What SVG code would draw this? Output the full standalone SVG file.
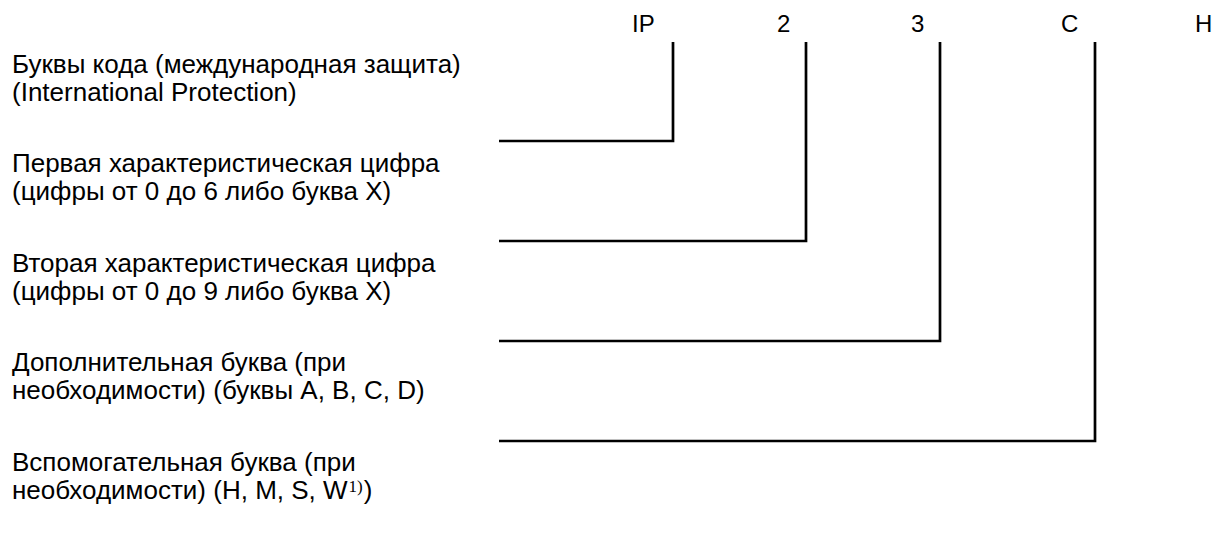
<svg xmlns="http://www.w3.org/2000/svg" width="1218" height="544" viewBox="0 0 1218 544">
<style>
.t{font-family:"Liberation Sans",Arial,sans-serif;font-size:26px;fill:#000}
.h{font-family:"Liberation Sans",Arial,sans-serif;font-size:24px;fill:#000}
.sup{font-family:"Liberation Serif","Times New Roman",serif;font-size:17px}
.c{fill:none;stroke:#000;stroke-width:2.7}
</style>
<rect width="1218" height="544" fill="#fff"/>
<g id="code">
<text class="h" x="632" y="32">IP</text>
<text class="h" x="777" y="32">2</text>
<text class="h" x="911" y="32">3</text>
<text class="h" x="1061" y="32">C</text>
<text class="h" x="1195" y="32">H</text>
</g>
<g id="n1"><text class="t" x="12" y="73">Буквы кода (международная защита)</text><text class="t" x="12" y="101">(International Protection)</text></g>
<g id="n2"><text class="t" x="12" y="172">Первая характеристическая цифра</text><text class="t" x="12" y="200">(цифры от 0 до 6 либо буква X)</text></g>
<g id="n3"><text class="t" x="12" y="272">Вторая характеристическая цифра</text><text class="t" x="12" y="300">(цифры от 0 до 9 либо буква X)</text></g>
<g id="n4"><text class="t" x="12" y="371">Дополнительная буква (при</text><text class="t" x="12" y="399">необходимости) (буквы A, B, C, D)</text></g>
<g id="n5"><text class="t" x="12" y="471">Вспомогательная буква (при</text><text class="t" x="12" y="499">необходимости) (H, M, S, W<tspan class="sup" dx="1" dy="-7">1)</tspan><tspan dx="1" dy="7">)</tspan></text></g>
<g id="connectors">
<path class="c" d="M499,141H673V42"/>
<path class="c" d="M499,241H806V42"/>
<path class="c" d="M499,341H940V42"/>
<path class="c" d="M499,441H1095V42"/>
</g>
</svg>
